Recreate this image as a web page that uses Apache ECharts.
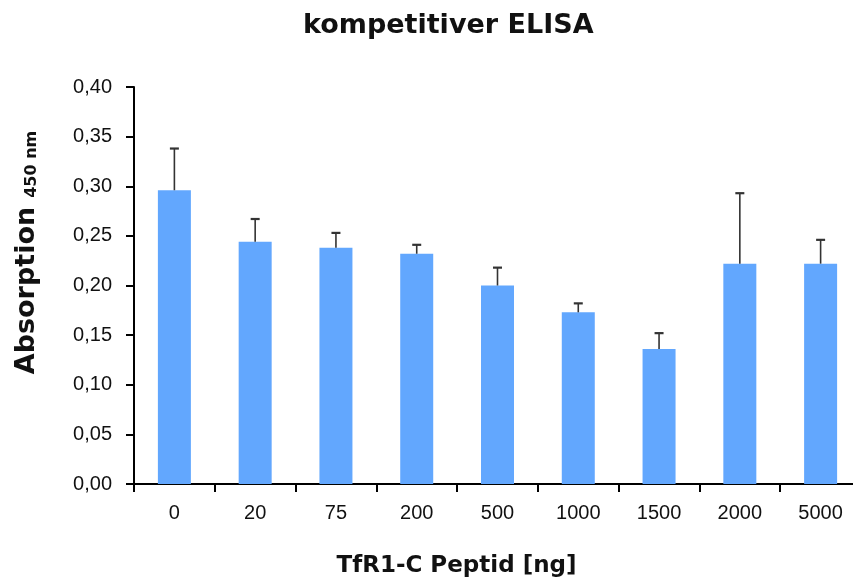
<!DOCTYPE html>
<html>
<head>
<meta charset="utf-8">
<script src="https://cdn.jsdelivr.net/npm/echarts@6/dist/echarts.min.js"></script>
<style>
  html, body { margin: 0; padding: 0; background: #fff; width: 853px; height: 583px; overflow: hidden; }
  #chart { width: 861px; height: 583px; }
</style>
</head>
<body>
<div id="chart"></div>
<script>
const categories = ['0', '20', '75', '200', '500', '1000', '1500', '2000', '5000'];
const means = [0.296, 0.244, 0.238, 0.232, 0.200, 0.173, 0.136, 0.222, 0.222];
const errors = [0.042, 0.023, 0.015, 0.009, 0.018, 0.009, 0.016, 0.071, 0.024];

const errData = means.map((m, i) => [i, m, m + errors[i]]);

const chart = echarts.init(document.getElementById('chart'), null, { renderer: 'canvas' });
chart.setOption({
  animation: false,
  backgroundColor: '#ffffff',
  title: {
    text: 'kompetitiver ELISA',
    left: 303,
    top: 12,
    padding: 0,
    textStyle: { fontFamily: 'DejaVu Sans', fontWeight: 'bold', fontSize: 27, color: '#111' }
  },
  grid: { left: 134, right: 0, top: 87, bottom: 96, containLabel: false },
  xAxis: {
    type: 'category',
    data: categories,
    name: 'TfR1-C Peptid [ng]',
    nameLocation: 'middle',
    nameGap: 71,
    nameTextStyle: { fontFamily: 'DejaVu Sans', fontWeight: 'bold', fontSize: 23, color: '#111', padding: [0, 82, 0, 0] },
    axisLine: { lineStyle: { color: '#000', width: 2 } },
    axisTick: { show: true, length: 8, lineStyle: { color: '#000', width: 2 } },
    axisLabel: { margin: 19, fontFamily: 'Liberation Sans', fontSize: 20, color: '#111' }
  },
  yAxis: {
    type: 'value',
    min: 0,
    max: 0.4,
    interval: 0.05,
    name: '{a|Absorption}{s| }{b|450 nm}',
    nameLocation: 'middle',
    nameRotate: 90,
    nameGap: 94,
    nameTextStyle: {
      padding: [0, 0, 0, 66],
      rich: {
        a: { fontFamily: 'DejaVu Sans', fontWeight: 'bold', fontSize: 27, color: '#111', verticalAlign: 'bottom' },
        s: { fontSize: 16, width: 9, verticalAlign: 'bottom' },
        b: { fontFamily: 'DejaVu Sans', fontWeight: 'bold', fontSize: 16, color: '#111', verticalAlign: 'bottom' }
      }
    },
    axisLine: { show: true, lineStyle: { color: '#000', width: 2 } },
    axisTick: { show: true, length: 8, lineStyle: { color: '#000', width: 2 } },
    splitLine: { show: false },
    axisLabel: {
      margin: 22,
      fontFamily: 'Liberation Sans',
      fontSize: 20,
      color: '#111',
      formatter: v => v.toFixed(2).replace('.', ',')
    }
  },
  series: [
    {
      type: 'bar',
      data: means,
      barWidth: 33,
      itemStyle: { color: '#62A7FE' },
      z: 2
    },
    {
      type: 'custom',
      data: errData,
      z: 3,
      renderItem: function (params, api) {
        const base = api.coord([api.value(0), api.value(1)]);
        const top = api.coord([api.value(0), api.value(2)]);
        const x = base[0];
        const half = 4.5;
        return {
          type: 'group',
          children: [
            { type: 'line', shape: { x1: x, y1: base[1], x2: x, y2: top[1] }, style: { stroke: '#333', lineWidth: 1.6 } },
            { type: 'line', shape: { x1: x - half, y1: top[1], x2: x + half, y2: top[1] }, style: { stroke: '#333', lineWidth: 2.2 } }
          ]
        };
      }
    }
  ]
});
</script>
</body>
</html>
